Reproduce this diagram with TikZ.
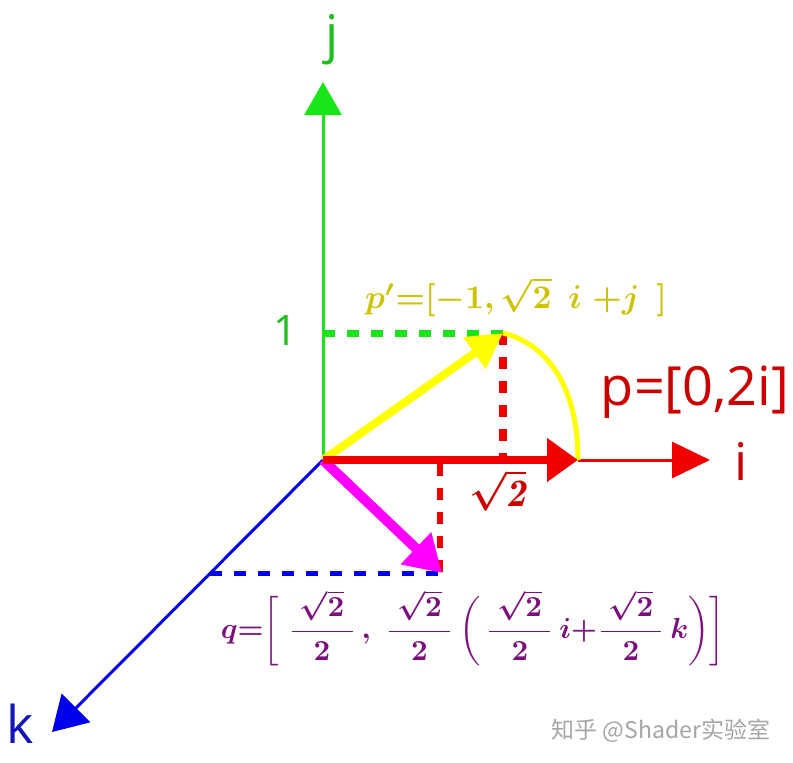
\documentclass[tikz,border=0pt]{standalone}
\usepackage{amsmath}
\usepackage{fontspec}
\newfontfamily\osans{Open Sans}
\newfontfamily\cjk{Noto Sans CJK SC}
\usetikzlibrary{arrows.meta}
\definecolor{cgreen}{RGB}{25,230,25}
\definecolor{tgreen}{RGB}{30,190,30}
\definecolor{cred}{RGB}{240,0,0}
\definecolor{tred}{RGB}{205,0,0}
\definecolor{cyellow}{RGB}{255,255,0}
\definecolor{tyellow}{RGB}{205,195,0}
\definecolor{cmag}{RGB}{255,0,255}
\definecolor{cblue}{RGB}{0,0,235}
\definecolor{tblue}{RGB}{20,20,190}
\definecolor{tpurple}{RGB}{125,15,125}
\newcommand\myfr{\dfrac{\hbox to 21pt{\hss$\sqrt{2}$\hss}}{2}}
\newcommand\mysqrtlbl{\scalebox{3.9}{\boldmath$\sqrt{\mathit{2}}$}}
\newcommand\mypplbl{\scalebox{3.3}{\boldmath$p'{=}[-1,\sqrt{2}\;\,i\;{+}j\;\,]$}}
\newcommand\myqlbl{\scalebox{2.9}{\boldmath$q{=}\biggl[\;\myfr\,,\;\myfr\,\biggl(\,\myfr\, i{+}\myfr\, k\biggr)\biggr]$}}
\tikzset{
  axislbl/.style={inner sep=0pt,font=\osans\fontsize{52}{60}\selectfont},
  dashln/.style={dash pattern=on 12pt off 12pt},
  mathlbl/.style={inner sep=0pt},
}
\begin{document}
\begin{tikzpicture}[x=1pt,y=-1pt]
\useasboundingbox[fill=white] (0,0) rectangle (793,763);
% coordinates
\coordinate (O) at (323,460);
\coordinate (J) at (323,82);
\coordinate (K) at (52,732);
\coordinate (P) at (503,333);
\coordinate (A) at (578,460);
\coordinate (I) at (710,460);
\coordinate (Q) at (442,573);
\coordinate (G1) at (323,333);
\coordinate (PF) at (503,460);
\coordinate (QT) at (440,464);
\coordinate (QB) at (440,573);
\coordinate (BL) at (210,573);
% dashed guides
\draw[cgreen,line width=7pt,dashln] (G1) -- (P);
\draw[cred,line width=8pt,dashln] (P) -- (PF);
\draw[cred,line width=6pt,dashln] (QT) -- (QB);
\draw[cblue,line width=5pt,dashln] (BL) -- (QB);
% axes
\draw[cgreen,line width=3pt,-{Triangle[length=33pt,width=37pt]}] (O) -- (J);
\draw[cblue,line width=3pt,-{Triangle[length=34pt,width=40pt]}] (O) -- (K);
\draw[cred,line width=3pt,-{Triangle[length=38pt,width=36pt]}] (A) -- (I);
% vectors
\draw[cmag,line width=10pt,-{Triangle[length=36pt,width=42pt]}] (O) -- (Q);
\draw[cyellow,line width=5pt] (P) .. controls (550,345) and (578,390) .. (A);
\draw[cyellow,line width=8pt,-{Triangle[length=35pt,width=37pt]}] (O) -- (P);
\draw[cred,line width=8pt,-{Triangle[length=31pt,width=42pt]}] (O) -- (A);
% labels
\node[axislbl,text=tgreen] (lj) at (332,40) {j};
\node[axislbl,text=tgreen,font=\osans\fontsize{42}{50}\selectfont] (l1) at (286,331) {1};
\node[axislbl,text=tred] (li) at (741,461) {i};
\node[axislbl,text=tblue] (lk) at (20,724) {k};
\node[axislbl,text=tred,font=\osans\fontsize{54}{60}\selectfont] (lp) at (695,392) {p=[0,2i]};
\node[mathlbl,text=tred] (ls) at (498,490) {\mysqrtlbl};
\node[mathlbl,text=tyellow] (lpp) at (516,297) {\mypplbl};
\node[mathlbl,text=tpurple] (lq) at (473,628) {\myqlbl};
\node[inner sep=0pt,text=black!35,font=\cjk\fontsize{23}{28}\selectfont] (wm) at (661,731) {知乎 @Shader实验室};
\end{tikzpicture}
\end{document}
